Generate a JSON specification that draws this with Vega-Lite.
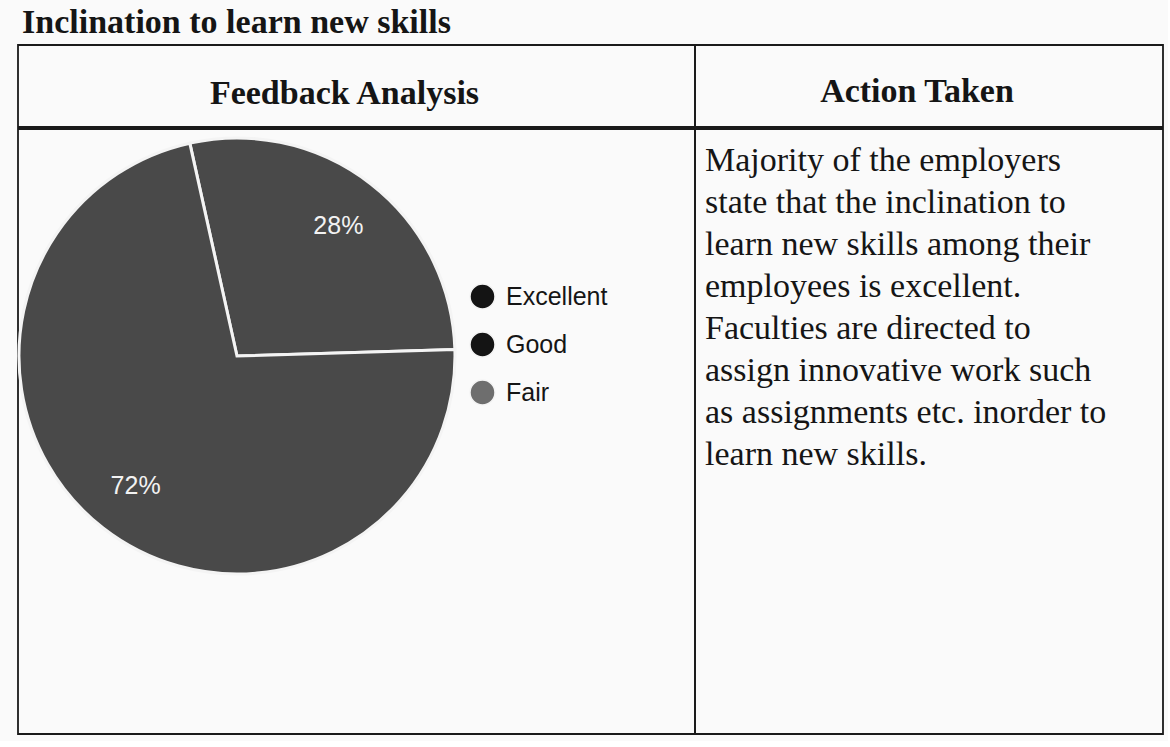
{
  "$schema": "https://vega.github.io/schema/vega-lite/v6.json",
  "background": "#fafafa",
  "padding": {"left": 12, "top": 6, "right": 4, "bottom": 6},
  "title": {"text": "Inclination to learn new skills", "anchor": "start", "font": "Liberation Serif", "fontSize": 34, "fontWeight": "bold", "color": "#151515", "offset": 4, "dx": 10},
  "config": {"view": {"stroke": "#1a1a1a", "strokeWidth": 1.8}, "legend": {"padding": 0}},
  "datasets": {
    "feedback": [
      {"rating": "Excellent", "share": 28, "rank": 1, "label": "28%"},
      {"rating": "Good", "share": 72, "rank": 2, "label": "72%"},
      {"rating": "Fair", "share": 0, "rank": 3, "label": "0%"}
    ],
    "headL": [{"h": "Feedback Analysis"}],
    "headR": [{"h": "Action Taken"}],
    "action": [
      {"n": 1, "line": "Majority of the employers"},
      {"n": 2, "line": "state that the inclination to"},
      {"n": 3, "line": "learn new skills among their"},
      {"n": 4, "line": "employees is excellent."},
      {"n": 5, "line": "Faculties are directed to"},
      {"n": 6, "line": "assign innovative work such"},
      {"n": 7, "line": "as assignments etc. inorder to"},
      {"n": 8, "line": "learn new skills."}
    ]
  },
  "spacing": 0,
  "resolve": {"scale": {"color": "independent"}, "legend": {"color": "independent"}},
  "vconcat": [
    {
      "spacing": 0,
      "bounds": "flush",
      "resolve": {"scale": {"color": "independent"}, "legend": {"color": "independent"}},
      "hconcat": [
        {
          "width": 677, "height": 82,
          "data": {"name": "headL"},
          "mark": {"type": "text", "font": "Liberation Serif", "fontSize": 34, "fontWeight": "bold", "color": "#151515", "dx": -12, "dy": 8},
          "encoding": {
            "x": {"datum": "h", "type": "nominal", "scale": {"type": "point", "domain": ["h"], "padding": 0, "align": 0.5}, "axis": null},
            "y": {"datum": "h", "type": "nominal", "scale": {"type": "point", "domain": ["h"], "padding": 0, "align": 0.5}, "axis": null},
            "text": {"field": "h"}
          }
        },
        {
          "width": 468, "height": 82,
          "data": {"name": "headR"},
          "mark": {"type": "text", "font": "Liberation Serif", "fontSize": 34, "fontWeight": "bold", "color": "#151515", "dx": -12, "dy": 6},
          "encoding": {
            "x": {"datum": "h", "type": "nominal", "scale": {"type": "point", "domain": ["h"], "padding": 0, "align": 0.5}, "axis": null},
            "y": {"datum": "h", "type": "nominal", "scale": {"type": "point", "domain": ["h"], "padding": 0, "align": 0.5}, "axis": null},
            "text": {"field": "h"}
          }
        }
      ]
    },
    {
      "spacing": 0,
      "bounds": "flush",
      "resolve": {"scale": {"color": "independent"}, "legend": {"color": "independent"}},
      "hconcat": [
        {
          "width": 677, "height": 605,
          "data": {"name": "feedback"},
          "transform": [{"filter": "datum.share > 0"}],
          "encoding": {
            "theta": {"field": "share", "type": "quantitative", "stack": true, "scale": {"range": [-0.218, 6.065]}},
            "order": {"field": "rank", "type": "quantitative"},
            "x": {"datum": "pie", "type": "nominal", "scale": {"type": "point", "domain": ["pie", "legend"], "padding": 0.916}, "axis": null},
            "y": {"datum": "pie", "type": "nominal", "scale": {"type": "point", "domain": ["pie", "below"], "padding": 1, "align": 0.5628}, "axis": null}
          },
          "layer": [
            {
              "mark": {"type": "arc", "radius": 218, "stroke": "#f4f4f4", "strokeWidth": 3, "fillOpacity": 0.77},
              "encoding": {
                "color": {
                  "field": "rating", "type": "nominal",
                  "scale": {"domain": ["Excellent", "Good", "Fair"], "range": ["#141414", "#141414", "#6e6e6e"]},
                  "legend": {
                    "title": null, "orient": "none", "legendX": 451, "legendY": 154,
                    "symbolType": "circle", "symbolSize": 625,
                    "labelFont": "Liberation Sans", "labelFontSize": 25, "labelColor": "#151515",
                    "rowPadding": 17, "labelOffset": 10,
                    "encode": {"symbols": {"update": {"fillOpacity": {"value": 1}, "opacity": {"value": 1}, "strokeWidth": {"value": 0}}}}
                  }
                }
              }
            },
            {
              "mark": {"type": "text", "radius": 165, "font": "Liberation Sans", "fontSize": 25, "color": "#f2f2f2"},
              "encoding": {"text": {"field": "label"}}
            }
          ]
        },
        {
          "width": 468, "height": 605,
          "data": {"name": "action"},
          "mark": {"type": "text", "align": "left", "font": "Liberation Serif", "fontSize": 34, "color": "#151515", "dx": 10},
          "encoding": {
            "x": {"datum": "l", "type": "nominal", "scale": {"type": "point", "domain": ["l"], "padding": 0, "align": 0}, "axis": null},
            "y": {"field": "n", "type": "quantitative", "scale": {"domain": [0.238, 14.643], "reverse": true, "zero": false, "nice": false}, "axis": null},
            "text": {"field": "line"}
          }
        }
      ]
    }
  ]
}
